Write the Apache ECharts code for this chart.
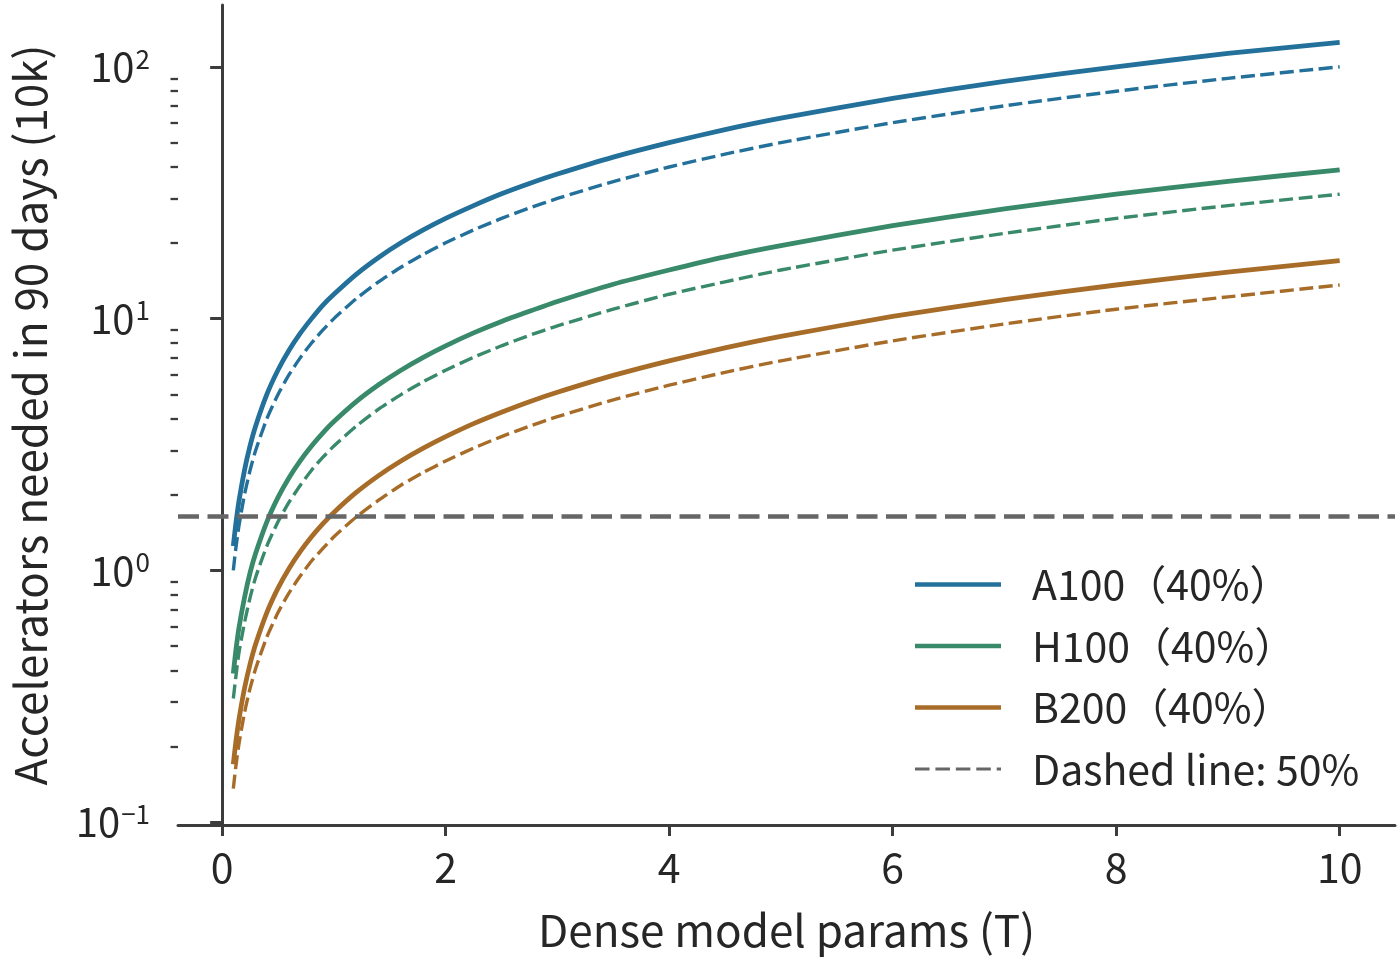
<!DOCTYPE html>
<html style="height: 100%">
<head>
    <meta charset="utf-8">
    <script src="https://cdn.jsdelivr.net/npm/echarts@6/dist/echarts.min.js"></script>
</head>
<body style="height: 100%; margin: 0; background: #fff">
<div id="container" style="width: 1400px; height: 962px"></div>

<script type="text/javascript">
    // model size in trillions of params
    var params = [0.1, 0.12, 0.15, 0.2, 0.25, 0.3, 0.4, 0.5, 0.6, 0.7, 0.8, 0.9, 1, 1.2, 1.4, 1.6, 1.8, 2, 2.25, 2.5, 2.75, 3, 3.5, 4, 4.5, 5, 6, 7, 8, 9, 10];

    // accelerators needed (x10k)
    var a100_40 = [1.25, 1.5, 1.88, 2.5, 3.13, 3.75, 5.0, 6.25, 7.5, 8.75, 10.0, 11.3, 12.5, 15.0, 17.5, 20.0, 22.5, 25.0, 28.1, 31.3, 34.4, 37.5, 43.8, 50.0, 56.3, 62.5, 75.0, 87.5, 100, 113, 125];
    var a100_50 = [1.0, 1.2, 1.5, 2.0, 2.5, 3.0, 4.0, 5.0, 6.0, 7.0, 8.0, 9.0, 10, 12, 14, 16, 18, 20, 22.5, 25, 27.5, 30, 35, 40, 45, 50, 60, 70, 80, 90, 100];
    var h100_40 = [0.39, 0.47, 0.59, 0.78, 0.98, 1.17, 1.56, 1.95, 2.34, 2.73, 3.12, 3.51, 3.9, 4.68, 5.46, 6.24, 7.02, 7.8, 8.78, 9.75, 10.7, 11.7, 13.7, 15.6, 17.6, 19.5, 23.4, 27.3, 31.2, 35.1, 39];
    var h100_50 = [0.31, 0.37, 0.47, 0.62, 0.78, 0.94, 1.25, 1.56, 1.87, 2.18, 2.5, 2.81, 3.12, 3.74, 4.37, 4.99, 5.62, 6.24, 7.02, 7.8, 8.58, 9.36, 10.9, 12.5, 14.0, 15.6, 18.7, 21.8, 25.0, 28.1, 31.2];
    var b200_40 = [0.17, 0.204, 0.255, 0.34, 0.425, 0.51, 0.68, 0.85, 1.02, 1.19, 1.36, 1.53, 1.7, 2.04, 2.38, 2.72, 3.06, 3.4, 3.83, 4.25, 4.68, 5.1, 5.95, 6.8, 7.65, 8.5, 10.2, 11.9, 13.6, 15.3, 17];
    var b200_50 = [0.136, 0.163, 0.204, 0.272, 0.34, 0.408, 0.544, 0.68, 0.816, 0.952, 1.09, 1.22, 1.36, 1.63, 1.9, 2.18, 2.45, 2.72, 3.06, 3.4, 3.74, 4.08, 4.76, 5.44, 6.12, 6.8, 8.16, 9.52, 10.9, 12.2, 13.6];

    var threshold = 1.64;

    var xTicks = [0, 2, 4, 6, 8, 10];
    var yMajor = [0.1, 1, 10, 100];
    var yMinor = [0.2, 0.3, 0.4, 0.5, 0.6, 0.7, 0.8, 0.9, 2, 3, 4, 5, 6, 7, 8, 9, 20, 30, 40, 50, 60, 70, 80, 90];
    var yExp = {0.1: '\u22121', 1: '0', 10: '1', 100: '2'};

    var FONT = '"Noto Sans CJK SC", "Noto Sans", sans-serif';
    var AXIS = '#3c3c3c';
    var TEXT = '#262626';
    var GREY = '#666666';
    var C_A = '#23719b', C_H = '#398a6b', C_B = '#a86c29';

    // legend glyphs: a thick bar, and a dashed bar
    var ICON_SOLID = 'path://M0,0h86v4.7h-86z';
    var ICON_DASH = 'path://M0,0h13.5v3h-13.5z M19,0h13.5v3h-13.5z M38,0h13.5v3h-13.5z M57,0h13.5v3h-13.5z M76,0h4v3h-4z';

    function pairs(ys) {
        return params.map(function (x, i) { return [x, ys[i]]; });
    }

    var dom = document.getElementById("container");
    var myChart = echarts.init(dom, null, {renderer: 'canvas'});

    var yRange = {min: 0.0975, max: 176};

    function solid(name, color, ys) {
        return {
            name: name, type: 'line', data: pairs(ys), showSymbol: false, symbol: 'none',
            smooth: 0.2, lineStyle: {color: color, width: 4.8}, itemStyle: {color: color}, z: 3, silent: true
        };
    }
    function dashed(color, ys) {
        return {
            type: 'line', data: pairs(ys), showSymbol: false, symbol: 'none',
            smooth: 0.2, lineStyle: {color: color, width: 3.4, type: [14, 5.5]}, z: 2, silent: true
        };
    }

    var option = {
        animation: false,
        textStyle: {fontFamily: FONT},
        grid: {left: 178, right: 5, top: 5, bottom: 137, containLabel: false},
        legend: {
            orient: 'vertical', left: 915, top: 564, padding: 0,
            itemWidth: 86, itemHeight: 10, itemGap: 20.5, symbolKeepAspect: true,
            textStyle: {fontSize: 41, color: TEXT, fontFamily: FONT, padding: [0, 0, 0, 26]},
            data: [
                {name: 'A100（40%）', icon: ICON_SOLID, itemStyle: {color: C_A}},
                {name: 'H100（40%）', icon: ICON_SOLID, itemStyle: {color: C_H}},
                {name: 'B200（40%）', icon: ICON_SOLID, itemStyle: {color: C_B}},
                {name: 'Dashed line: 50%', icon: ICON_DASH, itemStyle: {color: GREY}}
            ]
        },
        xAxis: {
            type: 'value', min: -0.395, max: 10.495,
            axisLine: {show: true, lineStyle: {color: AXIS, width: 3}},
            axisTick: {show: true, length: 11, lineStyle: {color: AXIS, width: 3}, customValues: xTicks},
            axisLabel: {fontSize: 41, color: TEXT, margin: 22, customValues: xTicks},
            splitLine: {show: false},
            name: 'Dense model params (T)', nameLocation: 'middle', nameGap: 83,
            nameTextStyle: {fontSize: 44, color: TEXT}
        },
        yAxis: [{
            type: 'log', logBase: 10, min: yRange.min, max: yRange.max,
            axisLine: {show: true, lineStyle: {color: AXIS, width: 3}},
            axisTick: {show: true, length: 12, lineStyle: {color: AXIS, width: 3}, customValues: yMajor},
            axisLabel: {
                fontSize: 40, color: TEXT, margin: 28, customValues: yMajor,
                formatter: function (v) {
                    var k = yExp[v] !== undefined ? yExp[v] : yExp[+v.toPrecision(3)];
                    return '{b|10}{s|' + k + '}';
                },
                rich: {
                    b: {fontSize: 40, color: TEXT, fontFamily: FONT},
                    s: {fontSize: 26, color: TEXT, fontFamily: FONT, verticalAlign: 'top', padding: [0, 0, 16, 1]}
                }
            },
            splitLine: {show: false},
            name: 'Accelerators needed in 90 days (10k)', nameLocation: 'middle', nameGap: 126,
            nameTextStyle: {fontSize: 44, color: TEXT}
        }, {
            // minor ticks only
            type: 'log', logBase: 10, min: yRange.min, max: yRange.max, position: 'left',
            axisLine: {show: false},
            axisTick: {show: true, length: 7.5, lineStyle: {color: AXIS, width: 2.3}, customValues: yMinor},
            axisLabel: {show: false},
            splitLine: {show: false}
        }],
        series: [
            solid('A100（40%）', C_A, a100_40),
            dashed(C_A, a100_50),
            solid('H100（40%）', C_H, h100_40),
            dashed(C_H, h100_50),
            solid('B200（40%）', C_B, b200_40),
            dashed(C_B, b200_50),
            {
                name: 'Dashed line: 50%', type: 'line', data: [], symbol: 'none',
                lineStyle: {color: GREY, width: 3}, itemStyle: {color: GREY},
                markLine: {
                    silent: true, symbol: 'none', label: {show: false},
                    lineStyle: {color: GREY, width: 4.5, type: [21, 8.5]},
                    data: [{yAxis: threshold}]
                }
            }
        ]
    };

    if (option && typeof option === "object") {
        myChart.setOption(option, true);
    }
</script>
</body>
</html>
